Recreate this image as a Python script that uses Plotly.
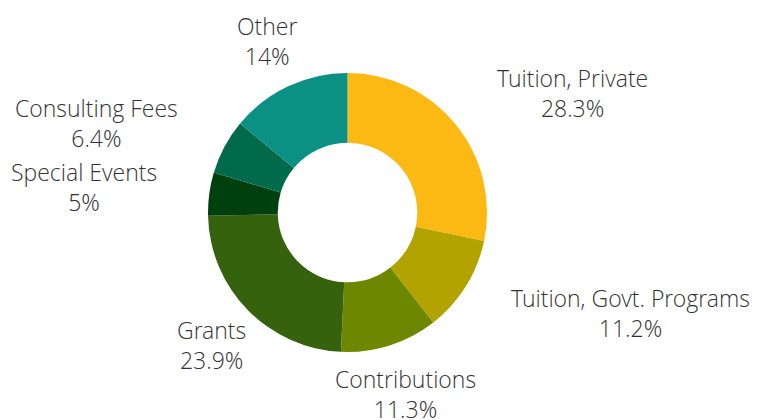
import math
import plotly.graph_objects as go

labels = ["Tuition, Private", "Tuition, Govt. Programs", "Contributions", "Grants",
          "Special Events", "Consulting Fees", "Other"]
values = [28.3, 11.2, 11.3, 23.9, 5, 6.4, 14]
colors = ["#FDB913", "#B2A300", "#6E8700", "#36620E", "#00400F", "#006A4B", "#0A9184"]

W, H = 762, 420
OFF = 8                            # page body margin
CX, CY, R = 347.5 - OFF, 212.5 - OFF, 139.5   # pie centre / radius in figure pixels
LABEL_R = 190                      # label anchor distance in pixels

fig = go.Figure(go.Pie(
    labels=labels, values=values,
    hole=0.5, sort=False, direction="clockwise", rotation=0,
    marker=dict(colors=colors, line=dict(width=0)),
    textinfo="none", hoverinfo="label+value",
    showlegend=False,
    domain=dict(x=[(CX - R) / W, (CX + R) / W], y=[(H - CY - R) / H, (H - CY + R) / H]),
))

total = sum(values)
cum = 0
annotations = []
for lab, v in zip(labels, values):
    mid = (cum + v / 2) / total * 2 * math.pi
    cum += v
    s, c = math.sin(mid), math.cos(mid)
    px = CX + LABEL_R * s
    py = CY - LABEL_R * c
    if s > 0.75:
        xa = "left"
    elif s < -0.75:
        xa = "right"
    else:
        xa = "center"
    annotations.append(dict(
        x=px / W, y=(H - py) / H, xref="paper", yref="paper",
        text=f"{lab}<br>{v:g}%", showarrow=False,
        xanchor=xa, yanchor="middle", align="center",
        font=dict(family="Open Sans Light, Open Sans", size=23, color="#333333", weight=300),
    ))

fig.update_layout(
    width=W, height=H, margin=dict(l=0, r=0, t=0, b=0),
    paper_bgcolor="white", font=dict(family="Open Sans"),
    annotations=annotations,
)
fig.write_html("out.html")
